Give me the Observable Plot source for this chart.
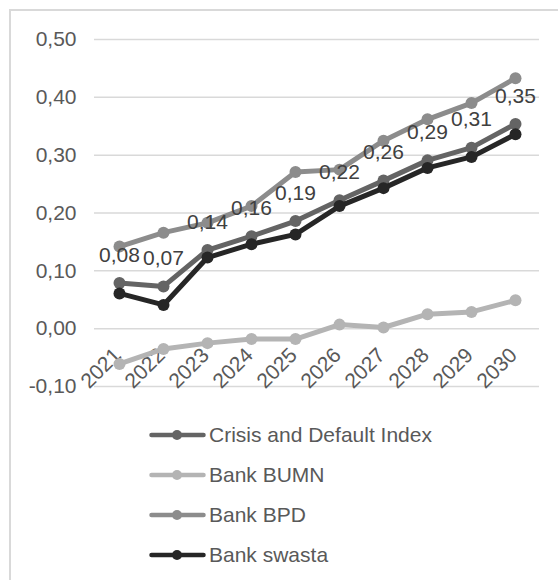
<!DOCTYPE html>
<html><head><meta charset="utf-8">
<script src="https://cdn.jsdelivr.net/npm/d3@7"></script>
<script src="https://cdn.jsdelivr.net/npm/@observablehq/plot@0.6"></script>
<style>
html,body{margin:0;padding:0;background:#fff;overflow:hidden;}
body{width:558px;height:580px;position:relative;font-family:"Liberation Sans",Arial,sans-serif;}
#chart{position:absolute;left:0;top:0;width:558px;}
#frame{position:absolute;left:9px;top:9px;width:700px;height:700px;border:2px solid #d9d9d9;box-sizing:border-box;pointer-events:none;}
#legend{position:relative;width:558px;height:180px;}
.row{position:absolute;left:149px;height:40px;display:flex;align-items:center;font-size:21px;color:#595959;white-space:nowrap;}
.row svg{display:block;margin-right:3px;}
</style></head><body>
<div id="chart"></div>
<div id="frame"></div>
<script>
const years = ["2021","2022","2023","2024","2025","2026","2027","2028","2029","2030"];
const seriesNames = ["Crisis and Default Index","Bank BUMN","Bank BPD","Bank swasta"];
const seriesColors = ["#646464","#b4b4b4","#8c8c8c","#262626"];
const crisisIndex = [0.079,0.073,0.136,0.160,0.186,0.222,0.256,0.291,0.313,0.354];
const bankBUMN = [-0.061,-0.035,-0.025,-0.018,-0.018,0.007,0.002,0.025,0.029,0.049];
const bankBPD = [0.142,0.166,0.183,0.212,0.271,0.275,0.325,0.362,0.390,0.433];
const bankSwasta = [0.061,0.041,0.123,0.146,0.163,0.212,0.243,0.278,0.297,0.336];
const yTicks = [-0.1,0,0.1,0.2,0.3,0.4,0.5];

const seriesValues = [crisisIndex, bankBUMN, bankBPD, bankSwasta];
const fmt = v => v.toFixed(2).replace(".", ",");
const tables = seriesValues.map((vals, s) => vals.map((v, i) => ({year: years[i], value: v, series: seriesNames[s]})));

const seriesMarks = tables.flatMap((t, s) => [
  Plot.line(t, {x: "year", y: "value", stroke: seriesColors[s], strokeWidth: 5, strokeLinejoin: "round", strokeLinecap: "round"}),
  Plot.dot(t, {x: "year", y: "value", fill: seriesColors[s], r: 6})
]);

const plot = Plot.plot({
  width: 558, height: 400,
  marginLeft: 94, marginRight: 19, marginTop: 39, marginBottom: 14,
  style: {fontFamily: "'Liberation Sans', Arial, sans-serif", fontSize: "21px", color: "#595959", background: "transparent"},
  x: {type: "point", domain: years, padding: 0.5, axis: null},
  y: {domain: [-0.1, 0.5]},
  marks: [
    Plot.gridY(yTicks, {stroke: "#d9d9d9", strokeOpacity: 1, strokeWidth: 1.5}),
    Plot.axisY(yTicks, {tickSize: 0, tickPadding: 18, tickFormat: fmt, label: null, fontSize: 21}),
    Plot.text(years, {x: d => d, y: () => 0, text: d => d, rotate: -45, textAnchor: "end", lineAnchor: "middle", dx: -2, dy: 23, fill: "#595959", fontSize: 21}),
    ...seriesMarks,
    Plot.text(tables[0], {x: "year", y: "value", text: d => fmt(d.value), dy: -28, lineAnchor: "middle", fill: "#404040", fontSize: 21})
  ]
});
document.getElementById("chart").appendChild(plot);

const legend = document.createElement("div");
legend.id = "legend";
seriesNames.forEach((name, i) => {
  const row = document.createElement("div");
  row.className = "row";
  row.style.top = (15 + 40 * i) + "px";
  row.innerHTML = `<svg width="57" height="14"><line x1="2.5" x2="54.5" y1="7" y2="7" stroke="${seriesColors[i]}" stroke-width="4.5" stroke-linecap="round"/><circle cx="28" cy="7" r="5" fill="${seriesColors[i]}"/></svg><span>${name}</span>`;
  legend.appendChild(row);
});
document.getElementById("chart").appendChild(legend);
</script>
</body></html>
